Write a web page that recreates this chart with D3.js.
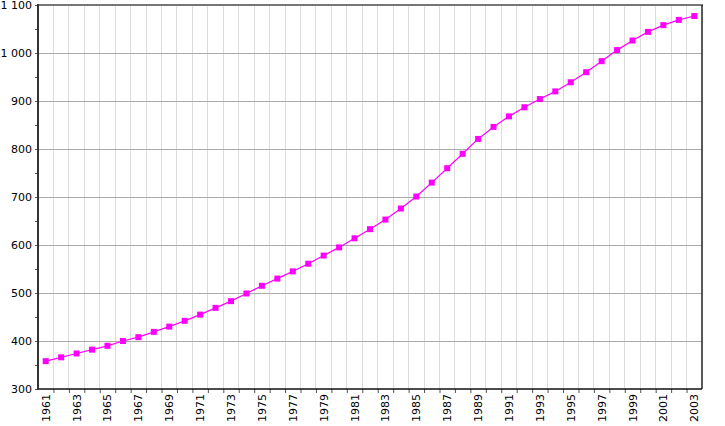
<!DOCTYPE html>
<html>
<head>
<meta charset="utf-8">
<script src="https://cdn.jsdelivr.net/npm/d3@7"></script>
<style>
  html, body { margin: 0; padding: 0; background: #fff; }
  svg { display: block; font-family: "DejaVu Sans", Verdana, sans-serif; }
</style>
</head>
<body>
<div id="chart"></div>
<script>
// population par année, 1961-2003 (lecture du graphique)
const years = d3.range(1961, 2004);
const population = [
  358, 366, 374, 382, 390, 400, 408, 419, 430, 442,
  455, 469, 483, 499, 515, 530, 545, 561, 578, 595,
  614, 633, 653, 676, 701, 730, 760, 790, 821, 846,
  868, 887, 904, 920, 939, 960, 983, 1006, 1026, 1044,
  1058, 1069, 1077
];
const yMajorTicks = [300, 400, 500, 600, 700, 800, 900, 1000, 1100];
const yMinorTicks = [350, 450, 550, 650, 750, 850, 950, 1050];
const xLabelYears = years.filter(y => (y - 1961) % 2 === 0);

const W = 725, H = 426;
const plot = { left: 38, right: 702, top: 5, bottom: 389 };

const svg = d3.select('#chart').append('svg')
  .attr('width', W)
  .attr('height', H);

const x = d3.scaleLinear()
  .domain([1960.5, 2003.5])
  .range([plot.left, plot.right]);

const y = d3.scaleLinear()
  .domain([300, 1100])
  .range([plot.bottom, plot.top]);

const fmt = v => d3.format(',')(v).replace(/,/g, ' ');

// grille verticale (entre les années)
const bounds = d3.range(1961.5, 2003, 1);
svg.append('g')
  .selectAll('line')
  .data(bounds)
  .join('line')
  .attr('x1', d => x(d)).attr('x2', d => x(d))
  .attr('y1', plot.top).attr('y2', plot.bottom)
  .attr('stroke', '#dcdcdc')
  .attr('stroke-width', 1)
  .attr('shape-rendering', 'crispEdges');

// grille horizontale
svg.append('g')
  .selectAll('line')
  .data(yMajorTicks.slice(1, -1))
  .join('line')
  .attr('x1', plot.left).attr('x2', plot.right)
  .attr('y1', d => y(d)).attr('y2', d => y(d))
  .attr('stroke', '#aaaaaa')
  .attr('stroke-width', 1)
  .attr('shape-rendering', 'crispEdges');

// axe Y
const yAxis = svg.append('g')
  .attr('transform', `translate(${plot.left},0)`)
  .call(d3.axisLeft(y).tickValues(yMajorTicks).tickFormat(fmt).tickSize(3).tickPadding(3));
yAxis.select('.domain').remove();
yAxis.selectAll('text')
  .attr('font-size', '11px')
  .attr('font-family', '"DejaVu Sans", Verdana, sans-serif')
  .attr('fill', '#000');
yAxis.selectAll('line').attr('stroke', '#555');

svg.append('g')
  .attr('transform', `translate(${plot.left},0)`)
  .call(d3.axisLeft(y).tickValues(yMinorTicks).tickFormat('').tickSize(3))
  .call(g => g.select('.domain').remove())
  .selectAll('line').attr('stroke', '#555');

// axe X
const xAxis = svg.append('g')
  .attr('transform', `translate(0,${plot.bottom})`)
  .call(d3.axisBottom(x).tickValues(bounds).tickFormat('').tickSize(4));
xAxis.select('.domain').remove();
xAxis.selectAll('line').attr('stroke', '#555');

svg.append('g')
  .selectAll('text')
  .data(xLabelYears)
  .join('text')
  .attr('transform', d => `translate(${x(d) + 4},${plot.bottom + 5}) rotate(-90)`)
  .attr('text-anchor', 'end')
  .attr('font-size', '11px')
  .attr('fill', '#000')
  .text(d => d);

// cadre
svg.append('line')
  .attr('x1', plot.left).attr('x2', plot.right + 1)
  .attr('y1', plot.top).attr('y2', plot.top)
  .attr('stroke', '#777').attr('stroke-width', 2);
svg.append('line')
  .attr('x1', plot.right).attr('x2', plot.right)
  .attr('y1', plot.top).attr('y2', plot.bottom)
  .attr('stroke', '#222').attr('stroke-width', 1.5);
svg.append('line')
  .attr('x1', plot.left).attr('x2', plot.right)
  .attr('y1', plot.bottom).attr('y2', plot.bottom)
  .attr('stroke', '#111').attr('stroke-width', 1.5);
svg.append('line')
  .attr('x1', plot.left).attr('x2', plot.left)
  .attr('y1', plot.top - 1).attr('y2', plot.bottom + 1)
  .attr('stroke', '#333').attr('stroke-width', 2);

// courbe
const line = d3.line()
  .x((d, i) => x(years[i]))
  .y(d => y(d));

svg.append('path')
  .datum(population)
  .attr('fill', 'none')
  .attr('stroke', '#ff00ff')
  .attr('stroke-width', 1.2)
  .attr('d', line);

svg.append('g')
  .selectAll('rect')
  .data(population)
  .join('rect')
  .attr('x', (d, i) => x(years[i]) - 3)
  .attr('y', d => y(d) - 3)
  .attr('width', 6)
  .attr('height', 6)
  .attr('fill', '#ff00ff');
</script>
</body>
</html>
